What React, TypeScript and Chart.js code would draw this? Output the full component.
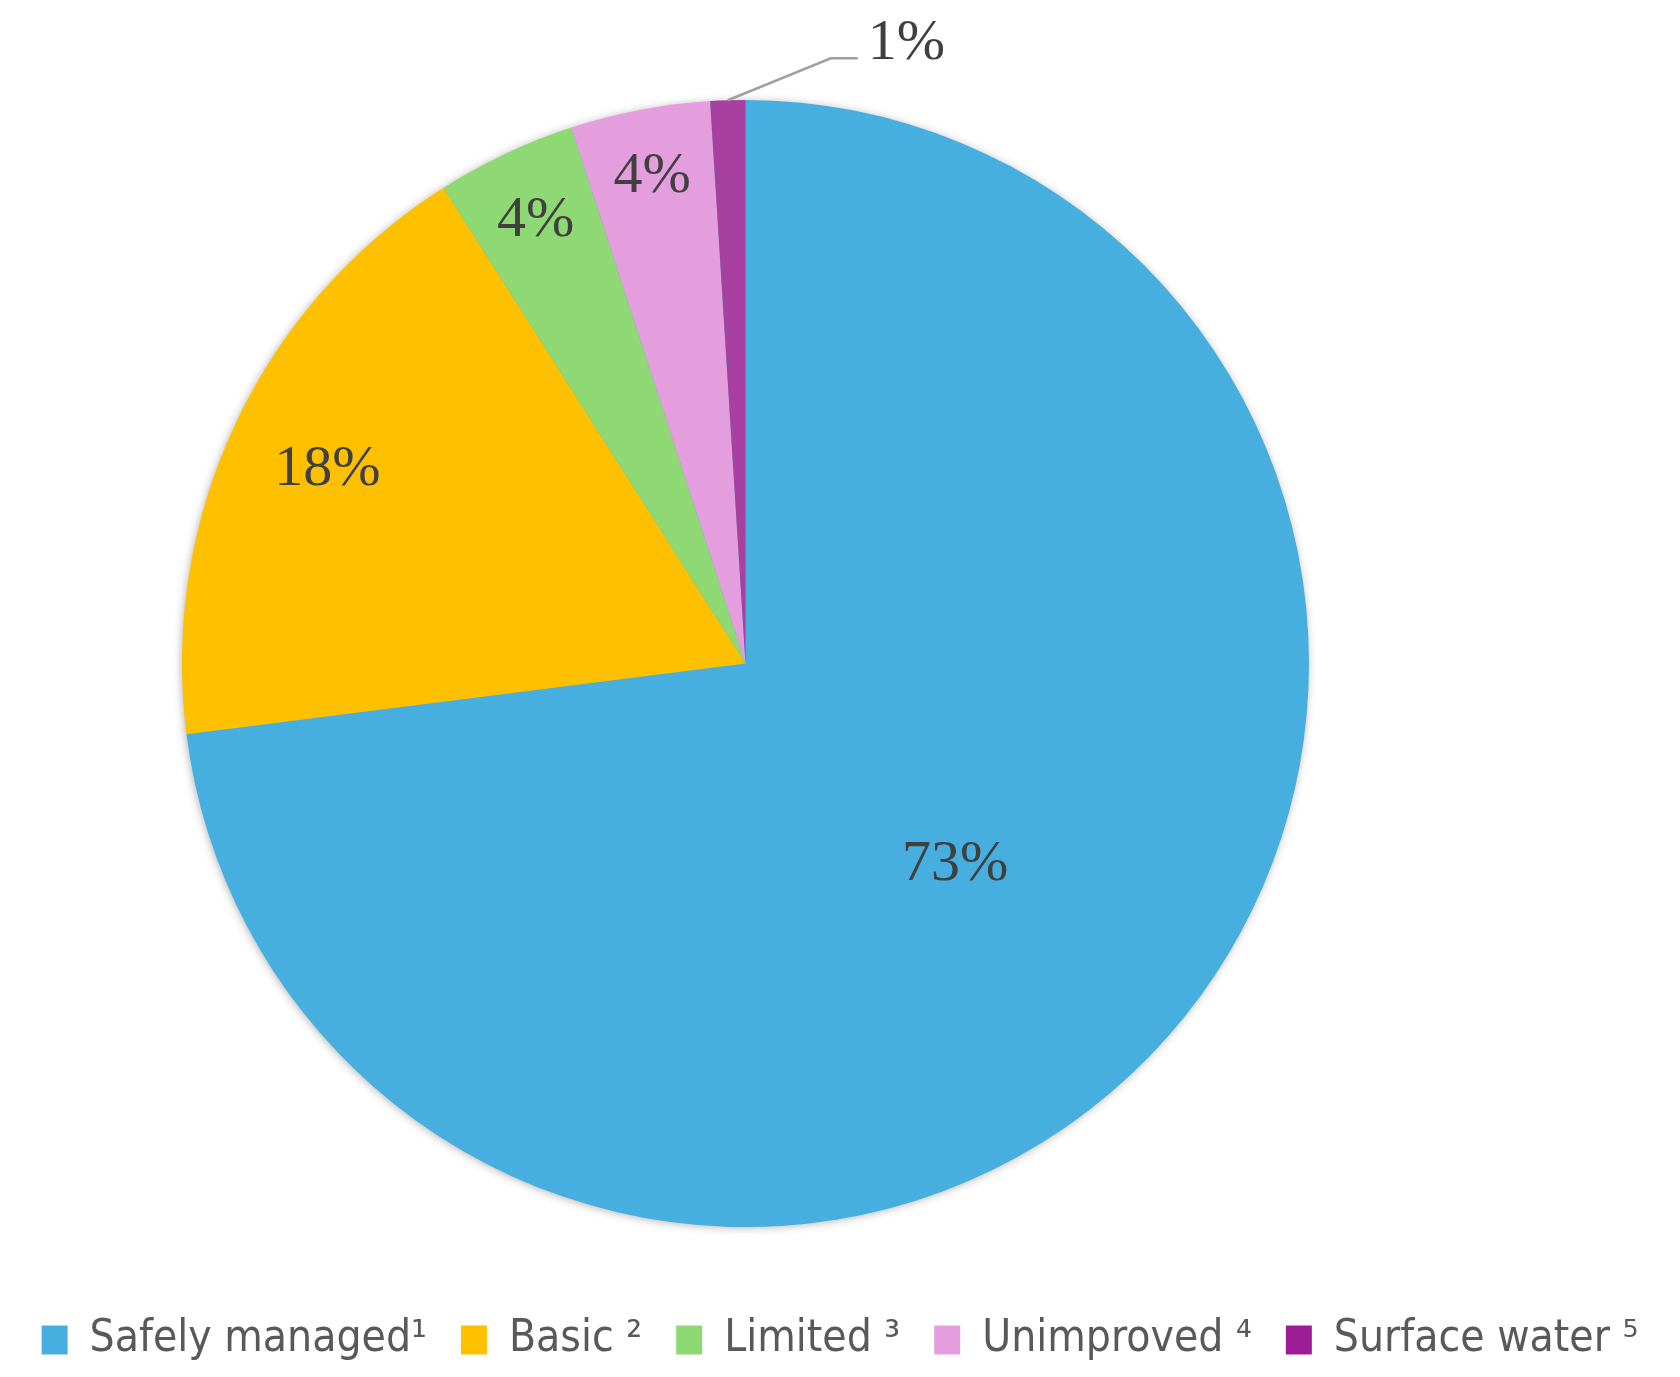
import { useEffect, useRef } from "react";
import { Chart, registerables } from "chart.js";

Chart.register(...registerables);

const categories = ["Safely managed¹", "Basic ²", "Limited ³", "Unimproved ⁴", "Surface water ⁵"];
const shares = [73, 18, 4, 4, 1];
const valueLabels = ["73%", "18%", "4%", "4%", "1%"];
const sliceColors = ["#46AFE0", "#FFC000", "#8ED973", "#E59EDD", "#A8409F"];
const legendColors = ["#46AFE0", "#FFC000", "#8ED973", "#E59EDD", "#9E1B96"];

const W = 1680;
const H = 1377;

const pieAreaPlugin = {
  id: "pieArea",
  afterLayout(chart: any) {
    const left = 182, top = 100, size = 1127;
    chart.chartArea = { left, top, right: left + size, bottom: top + size, width: size, height: size };
  },
};

const shadowPlugin = {
  id: "pieShadow",
  beforeDatasetsDraw(chart: any) {
    const meta = chart.getDatasetMeta(0);
    const arc = meta.data[0];
    if (!arc) return;
    const { x, y, outerRadius } = arc.getProps(["x", "y", "outerRadius"], true);
    const ctx = chart.ctx;
    ctx.save();
    ctx.shadowColor = "rgba(60,60,60,0.45)";
    ctx.shadowBlur = 10;
    ctx.shadowOffsetX = -1;
    ctx.shadowOffsetY = 1;
    ctx.beginPath();
    ctx.arc(x, y, outerRadius - 1, 0, Math.PI * 2);
    ctx.fillStyle = "#46AFE0";
    ctx.fill();
    ctx.restore();
  },
};

const radialFraction = [0.512, 0.82, 0.875, 0.885, 1];
const angleShift = [0.035, 0, 0, 0, 0];

const labelPlugin = {
  id: "sliceLabels",
  afterDatasetsDraw(chart: any) {
    const meta = chart.getDatasetMeta(0);
    const ctx = chart.ctx;
    ctx.save();
    ctx.font = '58px "Liberation Serif", "Times New Roman", serif';
    ctx.fillStyle = "#404040";
    ctx.textBaseline = "middle";
    meta.data.forEach((arc: any, i: number) => {
      const { x, y, startAngle, endAngle, outerRadius } = arc.getProps(
        ["x", "y", "startAngle", "endAngle", "outerRadius"],
        true
      );
      const mid = (startAngle + endAngle) / 2 + angleShift[i];
      if (i < 4) {
        const r = radialFraction[i] * outerRadius;
        ctx.textAlign = "center";
        ctx.fillText(valueLabels[i], x + Math.cos(mid) * r, y + Math.sin(mid) * r + 3);
      } else {
        const sx = x + Math.cos(mid) * outerRadius;
        const sy = y + Math.sin(mid) * outerRadius;
        const ex = sx + 103;
        const ey = sy - 42;
        const hx = ex + 27;
        ctx.strokeStyle = "#A0A0A0";
        ctx.lineWidth = 2.5;
        ctx.beginPath();
        ctx.moveTo(sx, sy);
        ctx.lineTo(ex, ey);
        ctx.lineTo(hx, ey);
        ctx.stroke();
        ctx.textAlign = "left";
        ctx.fillText(valueLabels[i], hx + 10, ey - 15);
      }
    });
    ctx.restore();
  },
};

export default function App() {
  const ref = useRef<HTMLCanvasElement | null>(null);
  useEffect(() => {
    if (!ref.current) return;
    const chart = new Chart(ref.current, {
      type: "pie",
      data: {
        labels: categories,
        datasets: [
          {
            data: shares,
            backgroundColor: sliceColors,
            borderWidth: 0,
            hoverOffset: 0,
            clip: false as any,
          },
        ],
      },
      options: {
        animation: false,
        responsive: false,
        events: [],
        layout: { padding: { left: 0, right: 0, top: 0, bottom: 5 } },
        plugins: {
          tooltip: { enabled: false },
          legend: {
            display: true,
            position: "bottom",
            labels: {
              boxWidth: 26,
              boxHeight: 29,
              padding: 34,
              color: "#595959",
              font: { size: 44, family: '"Liberation Sans Narrow", "DejaVu Sans Condensed", "Arial Narrow", sans-serif' },
              generateLabels: () =>
                categories.map((text, i) => ({
                  text,
                  fillStyle: legendColors[i],
                  strokeStyle: legendColors[i],
                  lineWidth: 0,
                  fontColor: "#595959",
                  hidden: false,
                  index: i,
                })),
            },
          },
        },
      },
      plugins: [pieAreaPlugin, shadowPlugin, labelPlugin],
    });
    return () => chart.destroy();
  }, []);
  return (
    <div style={{ position: "absolute", left: 0, top: 0, width: W, height: H, background: "#fff" }}>
      <canvas ref={ref} width={W} height={H} style={{ display: "block", width: W, height: H }} />
    </div>
  );
}
